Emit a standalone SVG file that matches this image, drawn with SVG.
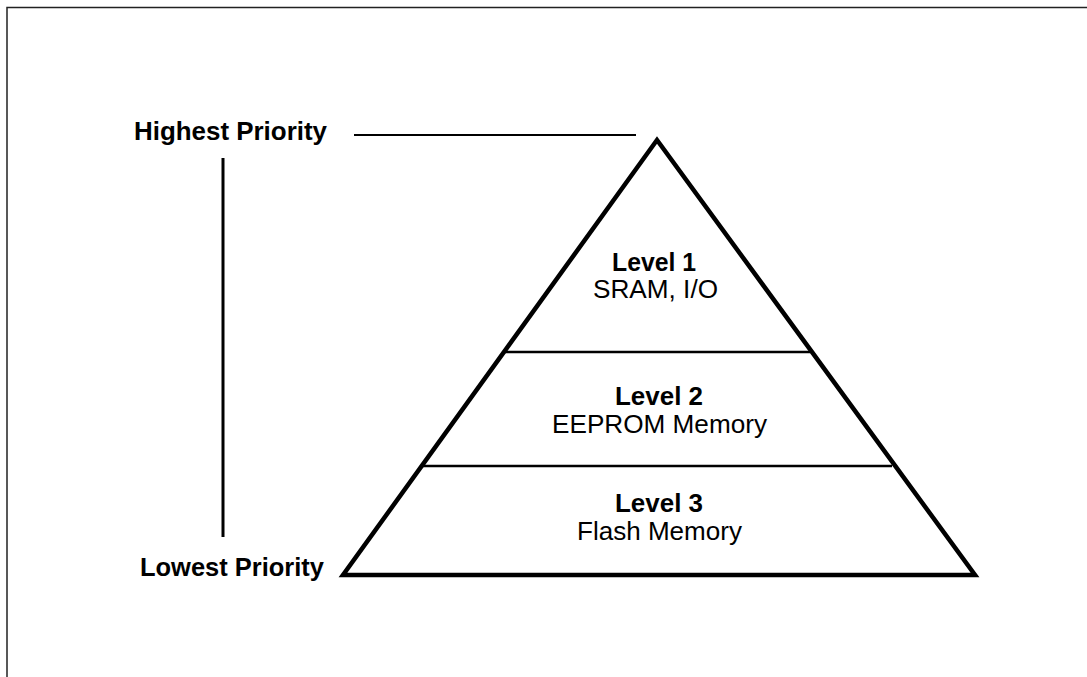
<svg xmlns="http://www.w3.org/2000/svg" width="1087" height="677" viewBox="0 0 1087 677">
<style>
.b{font-family:"Liberation Sans",Arial,sans-serif;font-weight:bold;font-size:25px;fill:#000}
.n{font-family:"Liberation Sans",Arial,sans-serif;font-size:25px;fill:#000}
.c{text-anchor:middle}
</style>
<rect width="1087" height="677" fill="#fff"/>
<path d="M7,700 V7.5 H1100" fill="none" stroke="#222" stroke-width="1.5"/>
<g id="connectors" stroke="#000" fill="none">
<line x1="354" y1="135" x2="636" y2="135" stroke-width="2"/>
<line x1="223" y1="158" x2="223" y2="537" stroke-width="3"/>
</g>
<g id="pyramid">
<polygon points="657,140 343,575 975,575" fill="#fff" stroke="#000" stroke-width="4.5" stroke-linejoin="miter"/>
<line x1="504" y1="352" x2="810" y2="352" stroke="#000" stroke-width="2.5"/>
<line x1="422" y1="466" x2="892" y2="466" stroke="#000" stroke-width="2.5"/>
</g>
<g id="highest"><text class="b" x="134" y="140" textLength="193" lengthAdjust="spacingAndGlyphs">Highest Priority</text></g>
<g id="lowest"><text class="b" x="140" y="576" textLength="184" lengthAdjust="spacingAndGlyphs">Lowest Priority</text></g>
<g id="level1">
<text class="b c" x="654" y="271" textLength="84" lengthAdjust="spacingAndGlyphs">Level 1</text>
<text class="n c" x="655.5" y="298" textLength="125" lengthAdjust="spacingAndGlyphs">SRAM, I/O</text>
</g>
<g id="level2">
<text class="b c" x="659" y="405" textLength="88" lengthAdjust="spacingAndGlyphs">Level 2</text>
<text class="n c" x="659.5" y="433" textLength="215" lengthAdjust="spacingAndGlyphs">EEPROM Memory</text>
</g>
<g id="level3">
<text class="b c" x="659" y="512" textLength="88" lengthAdjust="spacingAndGlyphs">Level 3</text>
<text class="n c" x="659.5" y="540" textLength="165" lengthAdjust="spacingAndGlyphs">Flash Memory</text>
</g>
</svg>
